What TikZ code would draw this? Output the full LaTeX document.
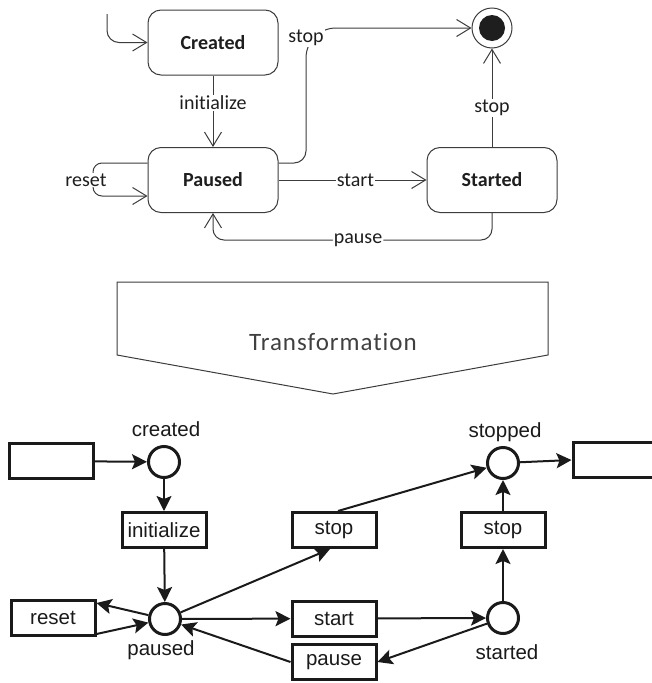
\documentclass[tikz,border=0pt]{standalone}
\usepackage{fontspec}
\setmainfont[Ligatures=NoCommon]{Carlito}
\newfontfamily\arialfont{Liberation Sans}
\usetikzlibrary{arrows.meta,calc}
\definecolor{umlline}{HTML}{3C3C3C}
\definecolor{umltext}{HTML}{1E1E1E}
\definecolor{pnline}{HTML}{1A1A1A}
\begin{document}
\begin{tikzpicture}[x=1pt,y=-1pt,
  state/.style={draw=umlline, line width=1pt, rounded corners=13pt,
    minimum width=130pt, minimum height=65pt, inner sep=0pt,
    font=\fontsize{20}{24}\selectfont\bfseries, text=umltext},
  tr/.style={draw=umlline, line width=1pt,
    -{Straight Barb[length=14pt,width=17pt,line width=1pt]}},
  lbl/.style={fill=white, inner sep=1pt,
    font=\fontsize{20}{24}\selectfont, text=umltext},
  place/.style={circle, draw=pnline, line width=3pt, minimum size=31pt, inner sep=0pt},
  trans/.style={draw=pnline, line width=3pt, minimum width=84pt, minimum height=35pt,
    inner sep=0pt, font=\arialfont\fontsize{20.5}{24}\selectfont, text=pnline},
  arc/.style={draw=pnline, line width=2pt,
    -{Stealth[length=15pt,width=15pt,inset=3pt]}},
  plabel/.style={inner sep=0pt, font=\arialfont\fontsize{20.5}{24}\selectfont, text=pnline},
]
\useasboundingbox (0,0) rectangle (651,683);

% ---------- state machine ----------
\node[state] (created) at (213,42.5) {Created};
\node[state] (paused)  at (213,180) {Paused};
\node[state] (started) at (492,180) {Started};
\node[circle, draw=umlline, line width=1pt, minimum size=40pt, inner sep=0pt] (fin) at (492,28) {};
\fill[umltext] (fin.center) circle (13);

\coordinate (init) at (107,14);
\draw[tr, rounded corners=12] (init) |- (created.west);

\draw[tr] (created) -- node[lbl, pos=0.38] {initialize} (paused);

% reset self loop
\coordinate (rs1) at ($(paused.west)+(0,-17)$);
\coordinate (rs2) at ($(paused.west)+(0,16)$);
\draw[tr, rounded corners=9] (rs1) -- (93,163) -- (93,196) -- (rs2);
\node[lbl] (resetlbl) at (86,180) {reset};

\draw[tr] (paused) -- node[lbl, pos=0.52] {start} (started);

\draw[tr] (started) -- node[lbl, pos=0.4] {stop} (fin);

% stop from paused to the final state
\coordinate (ps1) at ($(paused.east)+(0,-17)$);
\draw[tr] (ps1) [rounded corners=12] -- (306,163) [rounded corners=30] -- (306,28) -- (fin);
\node[lbl] (stoplbl) at (306,38) {stop};

% pause back to paused
\draw[tr, rounded corners=11] (started.south) -- (492,240) -- node[lbl, pos=0.48] {pause} (213,240) -- (paused.south);

% ---------- transformation arrow ----------
\draw[umlline, line width=1pt] (117,282) -- (548,282) -- (548,355) -- (333,394) -- (117,355) -- cycle;
\node[font=\fontsize{25}{30}\selectfont\addfontfeature{LetterSpace=4}, text=umltext!85] (tf) at (333,342) {Transformation};

% ---------- Petri net ----------
\node[trans] (emptyL) at (51,461) {};
\node[trans] (emptyR) at (615,460) {};
\node[place] (created2) at (164,462) {};
\node[place] (paused2)  at (165,619) {};
\node[place] (started2) at (503,618) {};
\node[place] (stopped2) at (503,463) {};

\node[plabel] (lcreated) at (166,429) {created};
\node[plabel] (lstopped) at (505,432) {stopped};
\node[plabel] (lpaused)  at (161,650) {paused};
\node[plabel] (lstarted) at (507,652) {started};

\node[trans] (init2)  at (164,530) {initialize};
\node[trans] (reset2) at (53,618) {reset};
\node[trans] (start2) at (334,618.5) {start};
\node[trans] (pause2) at (334,662) {pause};
\node[trans] (stopL)  at (334,530) {stop};
\node[trans] (stopR)  at (503,530) {stop};

\draw[arc] (emptyL) -- (created2);
\draw[arc] (created2) -- (init2);
\draw[arc] (init2) -- (paused2);
\draw[arc] (paused2) -- ($(reset2.north east)+(0,4)$);
\draw[arc] ($(reset2.south east)+(0,-3)$) -- (paused2);
\draw[arc] (paused2) -- ($(stopL.south)+(-4,0)$);
\draw[arc] ($(stopL.north)+(4,0)$) -- (stopped2);
\draw[arc] (paused2) -- (start2);
\draw[arc] (start2) -- (started2);
\draw[arc] (started2) -- (pause2.east);
\draw[arc] (pause2.west) -- (paused2);
\draw[arc] (started2) -- (stopR);
\draw[arc] (stopR) -- (stopped2);
\draw[arc] (stopped2) -- (emptyR.west);
\end{tikzpicture}
\end{document}
